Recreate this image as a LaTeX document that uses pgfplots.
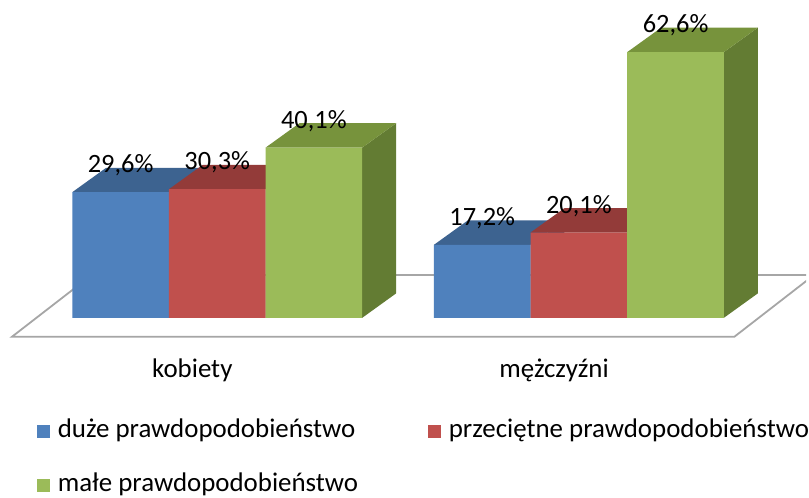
\documentclass[border=0pt]{standalone}
\usepackage{fontspec}
\setmainfont{Carlito}
\usepackage{pgfplots}
\pgfplotsset{compat=1.18}
\definecolor{bfront}{HTML}{4F81BD}
\definecolor{btop}{HTML}{3D6390}
\definecolor{bside}{HTML}{385C87}
\definecolor{rfront}{HTML}{C0504D}
\definecolor{rtop}{HTML}{933B39}
\definecolor{rside}{HTML}{863533}
\definecolor{gfront}{HTML}{9BBB59}
\definecolor{gtop}{HTML}{77933C}
\definecolor{gside}{HTML}{637C33}
\definecolor{floorc}{HTML}{A6A6A6}
\begin{document}
\begin{tikzpicture}
\begin{axis}[
  x=363bp, y=4.26bp,
  xmin=-0.6006, xmax=1.6281, ymin=-40.61, ymax=74.88,
  scale only axis,
  axis line style={draw=none},
  tick style={draw=none},
  ytick=\empty,
  xtick={0,1},
  xticklabels={kobiety,mężczyźni},
  xticklabel style={anchor=base, yshift=113bp, xshift=-25bp, font=\fontsize{27bp}{32bp}\selectfont},
  clip=true,
  legend columns=2,
  legend image code/.code={\fill[#1] (0bp,-1bp) rectangle (13bp,12bp);},
  legend style={at={(axis cs:-0.4986,-23.71)}, anchor=north west, draw=none, fill=none,
    inner sep=0pt, outer sep=0pt, row sep=29bp,
    font=\fontsize{27bp}{32bp}\selectfont,
    nodes={inner sep=0pt, text height=19bp, text depth=6bp, anchor=base west},
    /tikz/every odd column/.append style={column sep=8bp},
    /tikz/every even column/.append style={column sep=70bp}},
  nodes near coords={\pgfmathprintnumber[fixed, fixed zerofill, precision=1, use comma, assume math mode=true]{\pgfplotspointmeta}\%},
  every node near coord/.append style={anchor=base, yshift=19.5bp, font=\fontsize{26.5bp}{31bp}\selectfont, text=black},
]
% floor
\addplot[draw=floorc, line width=1.8bp, fill=white, forget plot, nodes near coords={}] coordinates {(-0.5675,-4.46) (1.4298,-4.46) (1.650,10.09) (-0.347,10.09)} --cycle;

% blue series: side, top, front
\addplot[fill=bside, draw=none, forget plot, nodes near coords={}] coordinates {(-0.1336,0) (-0.1336,29.6) (-0.0399,35.35) (-0.0399,5.75)} --cycle;
\addplot[fill=btop, draw=none, forget plot, nodes near coords={}] coordinates {(-0.4008,29.6) (-0.1336,29.6) (-0.0399,35.35) (-0.3071,35.35)} --cycle;
\addplot[fill=bside, draw=none, forget plot, nodes near coords={}] coordinates {(0.8664,0) (0.8664,17.2) (0.9601,22.95) (0.9601,5.75)} --cycle;
\addplot[fill=btop, draw=none, forget plot, nodes near coords={}] coordinates {(0.5992,17.2) (0.8664,17.2) (0.9601,22.95) (0.6929,22.95)} --cycle;
\addplot[ybar, bar width=0.2672, bar shift=-0.2672, fill=bfront, draw=none,
  every node near coord/.append style={xshift=-97bp}] coordinates {(0,29.6) (1,17.2)};
\addlegendentry{duże prawdopodobieństwo}

% red series
\addplot[fill=rside, draw=none, forget plot, nodes near coords={}] coordinates {(0.1336,0) (0.1336,30.3) (0.2273,36.05) (0.2273,5.75)} --cycle;
\addplot[fill=rtop, draw=none, forget plot, nodes near coords={}] coordinates {(-0.1336,30.3) (0.1336,30.3) (0.2273,36.05) (-0.0399,36.05)} --cycle;
\addplot[fill=rside, draw=none, forget plot, nodes near coords={}] coordinates {(1.1336,0) (1.1336,20.1) (1.2273,25.85) (1.2273,5.75)} --cycle;
\addplot[fill=rtop, draw=none, forget plot, nodes near coords={}] coordinates {(0.8664,20.1) (1.1336,20.1) (1.2273,25.85) (0.9601,25.85)} --cycle;
\addplot[ybar, bar width=0.2672, bar shift=0, fill=rfront, draw=none] coordinates {(0,30.3) (1,20.1)};
\addlegendentry{przeciętne prawdopodobieństwo}

% green series
\addplot[fill=gside, draw=none, forget plot, nodes near coords={}] coordinates {(0.4008,0) (0.4008,40.1) (0.4945,45.85) (0.4945,5.75)} --cycle;
\addplot[fill=gtop, draw=none, forget plot, nodes near coords={}] coordinates {(0.1336,40.1) (0.4008,40.1) (0.4945,45.85) (0.2273,45.85)} --cycle;
\addplot[fill=gside, draw=none, forget plot, nodes near coords={}] coordinates {(1.4008,0) (1.4008,62.6) (1.4945,68.35) (1.4945,5.75)} --cycle;
\addplot[fill=gtop, draw=none, forget plot, nodes near coords={}] coordinates {(1.1336,62.6) (1.4008,62.6) (1.4945,68.35) (1.2273,68.35)} --cycle;
\addplot[ybar, bar width=0.2672, bar shift=0.2672, fill=gfront, draw=none,
  every node near coord/.append style={xshift=97bp}] coordinates {(0,40.1) (1,62.6)};
\addlegendentry{małe prawdopodobieństwo}
\end{axis}
\end{tikzpicture}
\end{document}
